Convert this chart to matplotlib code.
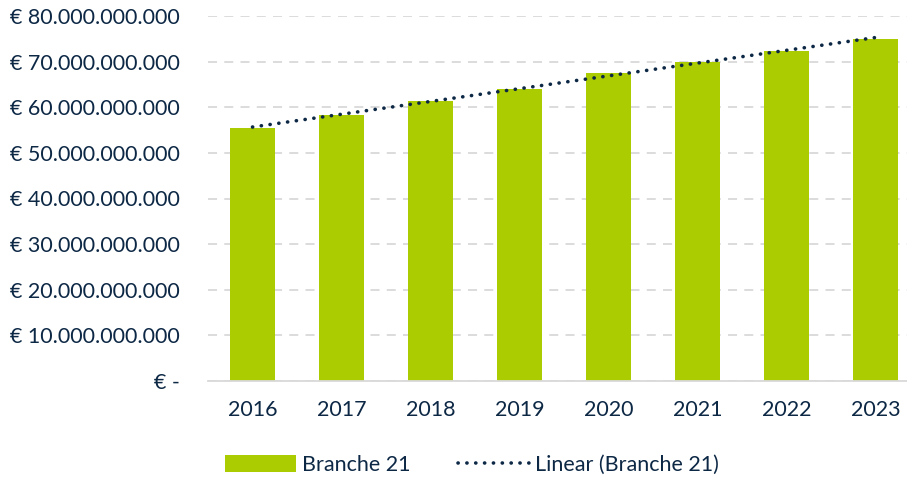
import numpy as np
import matplotlib.pyplot as plt
from matplotlib.lines import Line2D
from matplotlib.patches import Patch

years = ["2016", "2017", "2018", "2019", "2020", "2021", "2022", "2023"]
branche21 = [55.4e9, 58.4e9, 61.4e9, 64.0e9, 67.4e9, 69.9e9, 72.4e9, 74.9e9]
yticks = [0, 10e9, 20e9, 30e9, 40e9, 50e9, 60e9, 70e9, 80e9]

navy = "#0D2845"
green = "#AACC00"
plt.rcParams['font.family'] = ['Lato', 'DejaVu Sans']

fig = plt.figure(figsize=(9.07, 4.78), dpi=100)
ax = fig.add_axes([208 / 907, 1 - 381 / 478, 712 / 907, 365 / 478])

x = np.arange(len(years))
ax.bar(x, branche21, width=0.5, color=green, zorder=2)

# linear trendline like Excel
k, b = np.polyfit(x, branche21, 1)
dots = (0, (0.05, 2.4))
ax.plot(x, k * x + b, color=navy, linestyle=dots, linewidth=2.6,
        dash_capstyle='round', zorder=3)

ax.set_xlim(-0.5, len(years) - 0.5)
ax.set_ylim(0, 80e9)
ax.set_yticks(yticks)


def fmt(v):
    if v == 0:
        return "€ -"
    return "€ " + f"{int(v):,}".replace(",", ".")


ax.set_yticklabels([fmt(v) for v in yticks])
ax.set_xticks(x)
ax.set_xticklabels(years)
ax.yaxis.grid(True, color="#D9D9D9", linestyle=(0, (5, 4)), linewidth=1.3, zorder=0)
ax.set_axisbelow(True)
for s in ["top", "right", "left"]:
    ax.spines[s].set_visible(False)
ax.spines["bottom"].set_color("#D9D9D9")
ax.spines["bottom"].set_linewidth(1.3)
ax.tick_params(axis="both", length=0, labelsize=15.5, colors=navy)
ax.tick_params(axis="y", pad=20)
ax.tick_params(axis="x", pad=14)

handles = [Patch(facecolor=green, label="Branche 21"),
           Line2D([0], [0], color=navy, linestyle=dots, linewidth=2.6,
                  dash_capstyle='round', label="Linear (Branche 21)")]
fig.legend(handles=handles, loc="center", bbox_to_anchor=(472 / 907, 1 - 465 / 478),
           ncol=2, frameon=False, fontsize=15.5, labelcolor=navy,
           handlelength=3.3, handleheight=0.8, columnspacing=2.2, handletextpad=0.3)

fig.savefig("out.png", dpi=100)
